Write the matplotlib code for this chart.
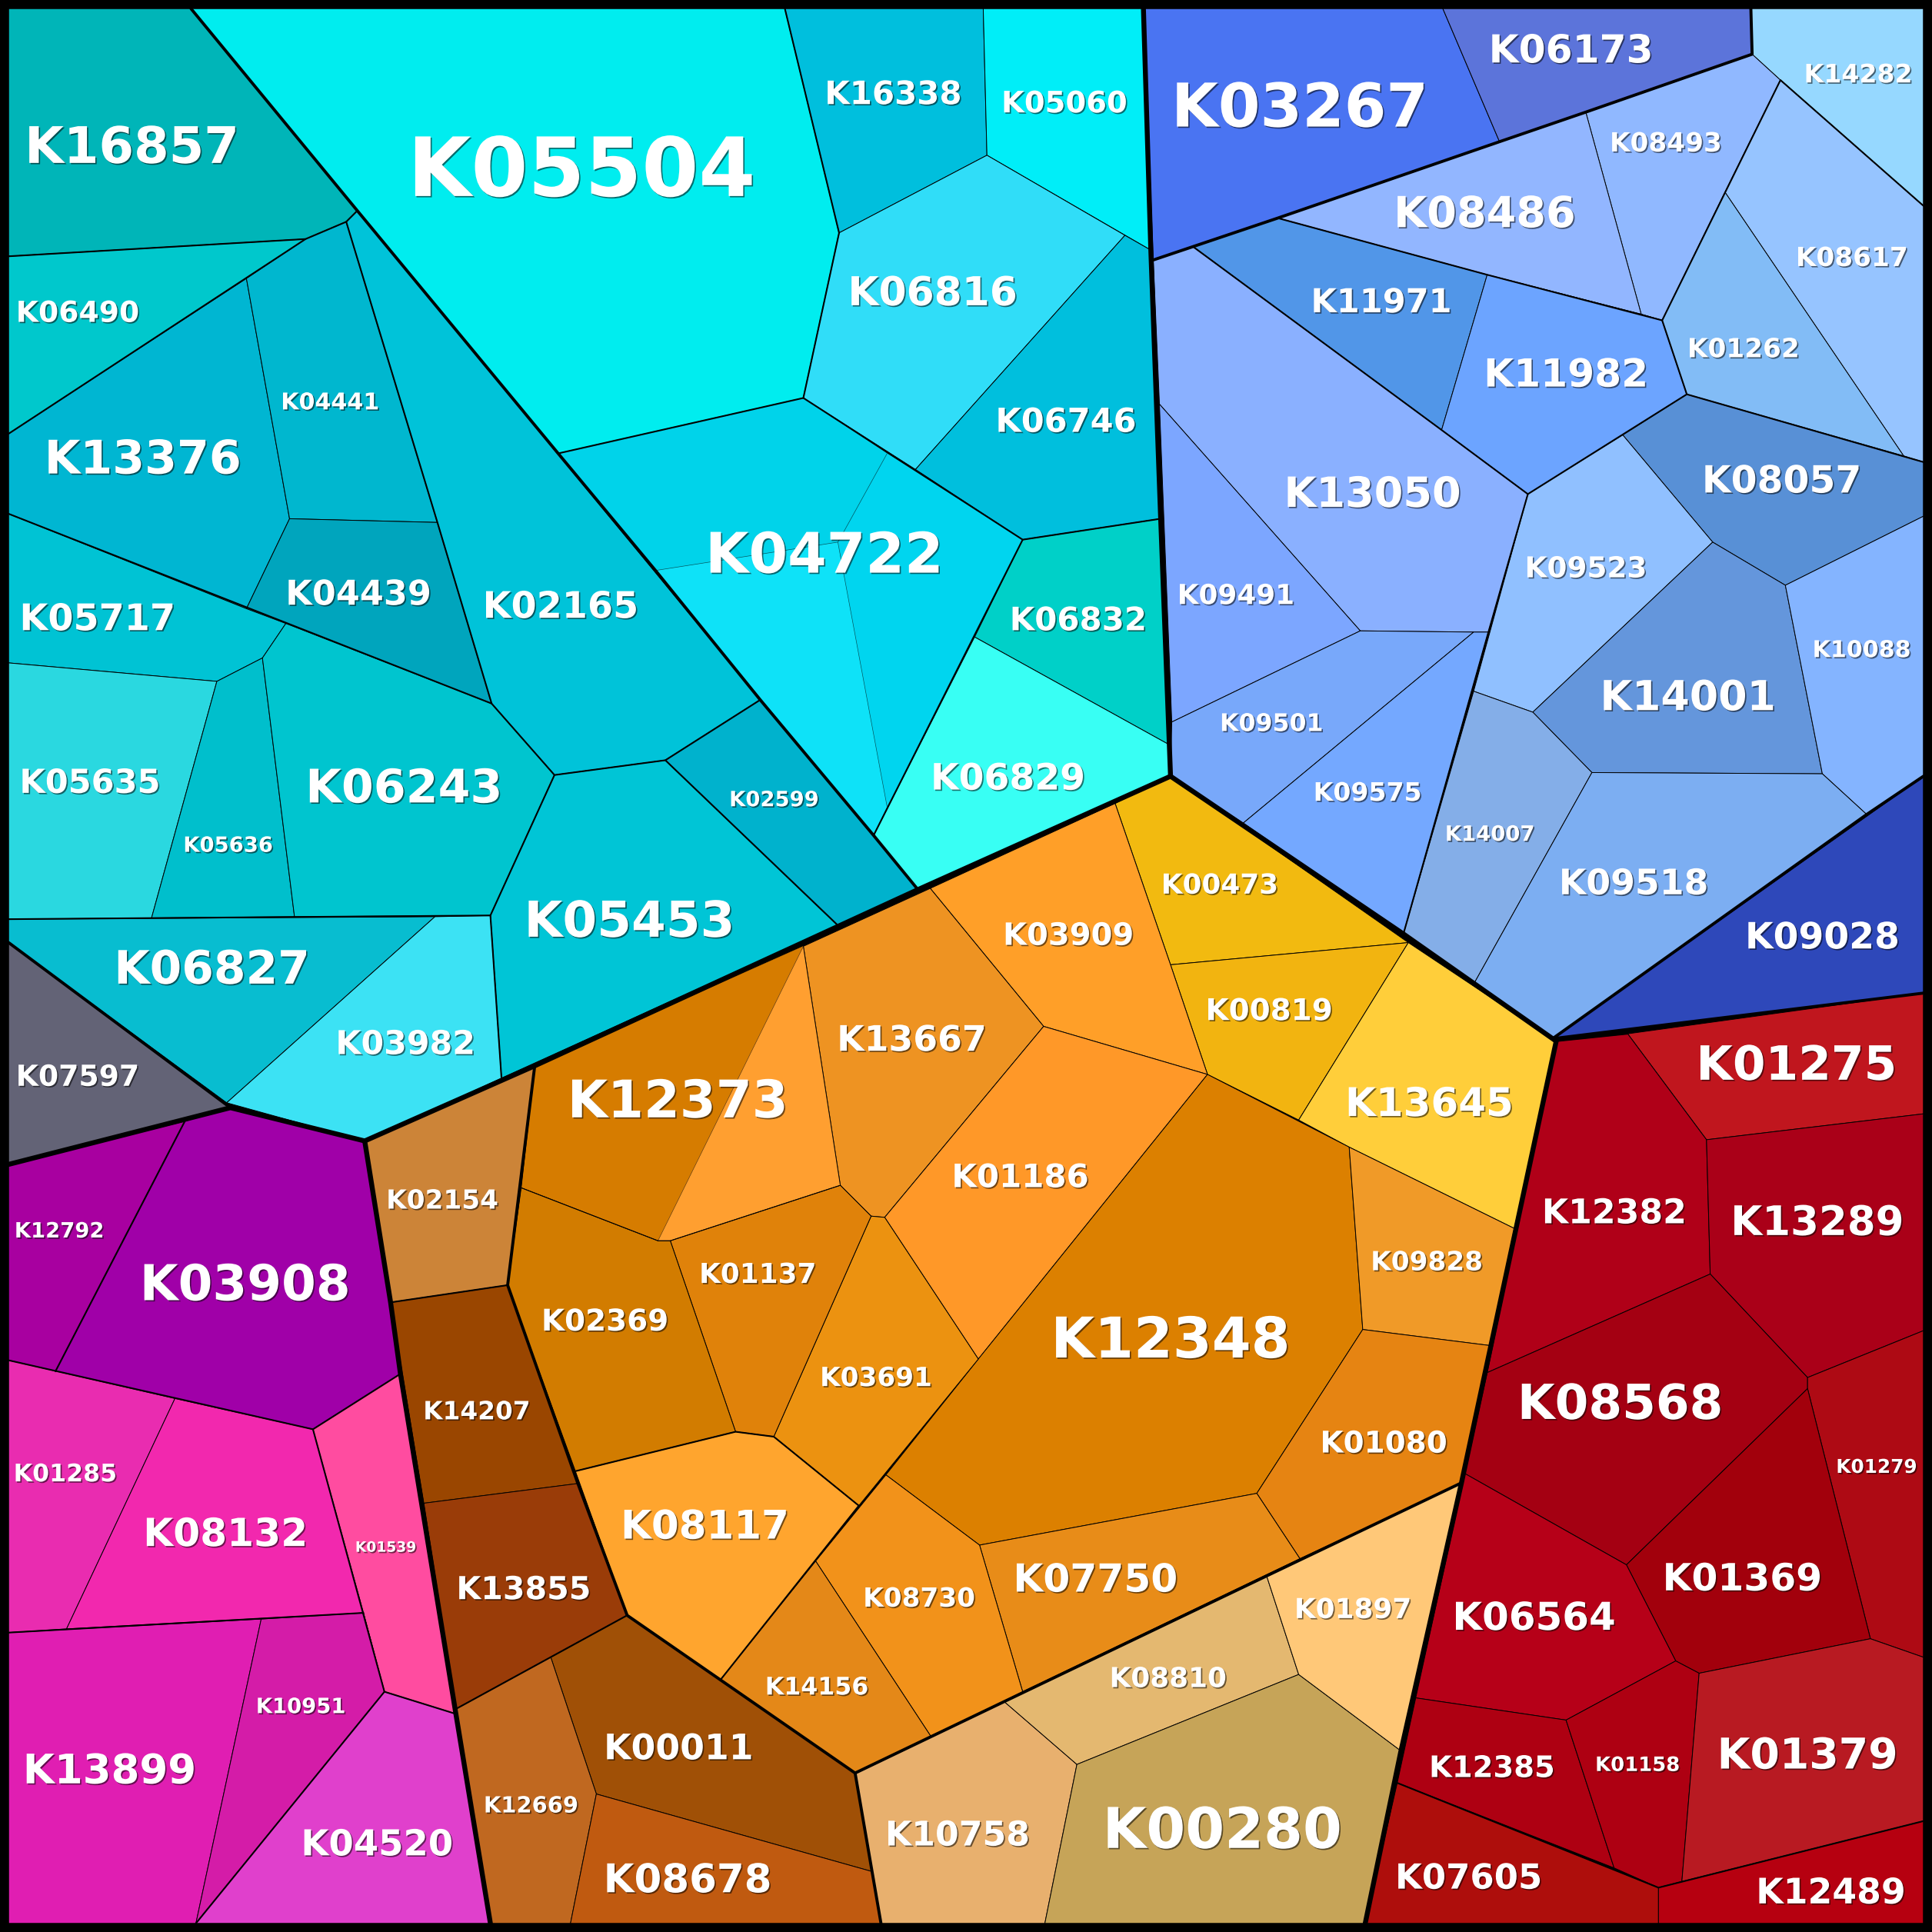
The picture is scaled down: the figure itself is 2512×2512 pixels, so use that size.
import matplotlib
matplotlib.use("Agg")
import matplotlib.pyplot as plt
import matplotlib.patheffects as pe
from matplotlib.patches import Polygon

# voronoi cells, vertices (1568 units across)
cyan_cells = {
    "K16857": [(7, 7), (155, 7), (290, 171), (281, 180), (248, 194), (7, 208)],
    "K06490": [(7, 208), (248, 194), (200, 226), (7, 352)],
    "K13376": [(7, 352), (200, 226), (235, 421), (200, 494), (7, 417)],
    "K04441": [(200, 226), (248, 194), (281, 180), (355, 424), (235, 421)],
    "K04439": [(235, 421), (355, 424), (399, 571), (200, 494)],
    "K02165": [(290, 171), (617, 568), (540, 617), (450, 629), (399, 571), (355, 424), (281, 180)],
    "K05717": [(7, 417), (200, 494), (232, 506), (213, 534), (176, 553), (7, 538)],
    "K05635": [(7, 538), (176, 553), (123, 745), (7, 746)],
    "K05636": [(176, 553), (213, 534), (239, 744), (123, 745)],
    "K06243": [(232, 506), (399, 571), (450, 629), (398, 743), (239, 744), (213, 534)],
    "K05453": [(450, 629), (540, 617), (680, 751), (407, 875), (398, 743)],
    "K02599": [(617, 568), (745, 722), (680, 751), (540, 617)],
    "K06827": [(7, 746), (353, 744), (184, 895), (7, 765)],
    "K03982": [(353, 744), (398, 743), (407, 875), (296, 926), (184, 895)],
    "K07597": [(7, 765), (187, 899), (7, 945)],
    "K05504": [(155, 7), (637, 7), (681, 189), (652, 323), (453, 368)],
    "K16338": [(637, 7), (798, 7), (801, 126), (681, 189)],
    "K05060": [(798, 7), (928, 7), (934, 203), (801, 126)],
    "K06816": [(681, 189), (801, 126), (913, 191), (743, 381), (652, 323)],
    "K06746": [(913, 191), (934, 203), (942, 421), (830, 438), (743, 381)],
    "K04722": [(453, 368), (652, 323), (720, 368), (684, 433), (680, 440), (532, 463)],
    "K04722b": [(720, 368), (830, 438), (791, 517), (720, 655), (680, 440), (684, 433)],
    "K04722c": [(532, 463), (680, 440), (720, 655), (709, 678)],
    "K06832": [(830, 438), (942, 421), (950, 605), (791, 517)],
    "K06829": [(791, 517), (950, 605), (950, 630), (745, 722), (709, 678)],
}
blue_cells = {
    "K03267": [(928, 7), (1171, 7), (1217, 115), (936, 211)],
    "K06173": [(1171, 7), (1421, 7), (1422, 44), (1217, 115)],
    "K14282": [(1421, 7), (1561, 7), (1561, 167), (1445, 65), (1422, 44)],
    "K08493": [(1287, 91), (1422, 44), (1445, 65), (1400, 156), (1349, 260), (1332, 255)],
    "K08486": [(1037, 177), (1287, 91), (1332, 255), (1207, 223)],
    "K11971": [(968, 200), (1037, 177), (1207, 223), (1170, 349)],
    "K11982": [(1207, 223), (1332, 255), (1349, 260), (1369, 320), (1317, 353), (1240, 401), (1170, 349)],
    "K13050": [(936, 211), (968, 200), (1170, 349), (1240, 401), (1208, 513), (1196, 513), (1104, 512), (941, 328)],
    "K09491": [(941, 328), (1104, 512), (951, 586)],
    "K09501": [(951, 586), (1104, 512), (1196, 513), (1009, 668), (950, 630)],
    "K09575": [(1196, 513), (1208, 513), (1139, 758), (1009, 668)],
    "K08617": [(1445, 65), (1561, 167), (1561, 375), (1545, 370), (1400, 156)],
    "K01262": [(1400, 156), (1545, 370), (1369, 320), (1349, 260)],
    "K08057": [(1369, 320), (1561, 375), (1561, 419), (1449, 475), (1390, 440), (1317, 353)],
    "K09523": [(1317, 353), (1390, 440), (1244, 578), (1196, 561), (1240, 401)],
    "K14001": [(1390, 440), (1449, 475), (1479, 628), (1292, 627), (1244, 578)],
    "K10088": [(1449, 475), (1561, 419), (1561, 630), (1515, 661), (1479, 628)],
    "K14007": [(1196, 561), (1244, 578), (1292, 627), (1197, 797), (1139, 758)],
    "K09518": [(1292, 627), (1479, 628), (1515, 661), (1260, 843), (1197, 797)],
    "K09028": [(1561, 630), (1561, 806), (1260, 843)],
}
orange_cells = {
    "K00473": [(905, 652), (950, 630), (1143, 765), (950, 783)],
    "K00819": [(950, 783), (1143, 765), (1054, 909), (980, 872)],
    "K13645": [(1143, 765), (1263, 845), (1229, 997), (1095, 931), (1054, 909)],
    "K03909": [(755, 721), (905, 652), (950, 783), (980, 872), (847, 833)],
    "K13667": [(652, 768), (755, 721), (847, 833), (718, 988), (707, 987), (682, 962)],
    "K12373": [(434, 865), (652, 768), (534, 1007), (423, 964)],
    "K12373b": [(652, 768), (682, 962), (544, 1007), (534, 1007)],
    "K01186": [(847, 833), (980, 872), (794, 1103), (718, 988)],
    "K12348": [(980, 872), (1095, 931), (1106, 1079), (1020, 1212), (795, 1254), (719, 1197), (794, 1103)],
    "K09828": [(1095, 931), (1229, 997), (1209, 1092), (1106, 1079)],
    "K01080": [(1106, 1079), (1209, 1092), (1186, 1204), (1055, 1265), (1020, 1212)],
    "K07750": [(795, 1254), (1020, 1212), (1055, 1265), (830, 1373)],
    "K03691": [(707, 987), (718, 988), (794, 1103), (697, 1222), (628, 1166)],
    "K01137": [(544, 1007), (682, 962), (707, 987), (628, 1166), (597, 1162)],
    "K02369": [(423, 964), (534, 1007), (544, 1007), (597, 1162), (467, 1194), (412, 1043)],
    "K02154": [(296, 926), (434, 865), (412, 1043), (317, 1057)],
    "K14207": [(317, 1057), (412, 1043), (469, 1204), (344, 1220)],
    "K13855": [(344, 1220), (469, 1204), (509, 1311), (370, 1387)],
    "K08117": [(467, 1194), (597, 1162), (628, 1166), (697, 1222), (585, 1363), (509, 1311)],
    "K08730": [(662, 1267), (719, 1197), (795, 1254), (830, 1373), (756, 1410)],
    "K14156": [(585, 1363), (662, 1267), (756, 1410), (694, 1439)],
    "K00011": [(447, 1345), (509, 1311), (694, 1439), (708, 1519), (484, 1456)],
    "K12669": [(370, 1387), (447, 1345), (484, 1456), (463, 1561), (398, 1561)],
    "K08678": [(484, 1456), (708, 1519), (715, 1561), (463, 1561)],
    "K10758": [(694, 1439), (815, 1381), (874, 1432), (848, 1561), (715, 1561)],
    "K08810": [(815, 1381), (1028, 1279), (1054, 1359), (874, 1432)],
    "K00280": [(874, 1432), (1054, 1359), (1137, 1421), (1108, 1561), (848, 1561)],
    "K01897": [(1028, 1279), (1185, 1204), (1137, 1421), (1054, 1359)],
}
purple_cells = {
    "K12792": [(7, 945), (150, 910), (45, 1113), (7, 1104)],
    "K03908": [(150, 910), (187, 899), (296, 926), (325, 1115), (254, 1160), (45, 1113)],
    "K01285": [(7, 1104), (142, 1135), (54, 1322), (7, 1325)],
    "K08132": [(142, 1135), (254, 1160), (295, 1309), (54, 1322)],
    "K01539": [(254, 1160), (325, 1115), (370, 1391), (312, 1373), (295, 1309)],
    "K13899": [(7, 1325), (212, 1314), (159, 1561), (7, 1561)],
    "K10951": [(212, 1314), (295, 1309), (312, 1373), (159, 1561)],
    "K04520": [(312, 1373), (370, 1391), (398, 1561), (159, 1561)],
}
red_cells = {
    "K01275": [(1321, 839), (1561, 806), (1561, 904), (1385, 925)],
    "K12382": [(1263, 845), (1321, 839), (1385, 925), (1388, 1034), (1207, 1114)],
    "K13289": [(1385, 925), (1561, 904), (1561, 1080), (1467, 1118), (1388, 1034)],
    "K08568": [(1207, 1114), (1388, 1034), (1467, 1118), (1467, 1127), (1320, 1270), (1189, 1196)],
    "K01279": [(1467, 1118), (1561, 1080), (1561, 1345), (1518, 1330), (1467, 1127)],
    "K01369": [(1467, 1127), (1518, 1330), (1379, 1358), (1360, 1348), (1320, 1270)],
    "K06564": [(1189, 1196), (1320, 1270), (1360, 1348), (1271, 1396), (1149, 1378)],
    "K12385": [(1149, 1378), (1271, 1396), (1310, 1516), (1134, 1447)],
    "K01158": [(1271, 1396), (1360, 1348), (1379, 1358), (1365, 1527), (1346, 1532), (1310, 1516)],
    "K01379": [(1379, 1358), (1518, 1330), (1561, 1345), (1561, 1478), (1365, 1527)],
    "K07605": [(1134, 1447), (1346, 1532), (1346, 1561), (1108, 1561)],
    "K12489": [(1346, 1532), (1561, 1478), (1561, 1561), (1346, 1561)],
}

cell_colors = {
    "K16857": "#00B5B8", "K06490": "#00C8CC", "K13376": "#00B6D2", "K04441": "#00B7CF",
    "K04439": "#00A5BD", "K02165": "#00C3D9", "K05717": "#00C3D4", "K05635": "#2AD8E0",
    "K05636": "#00BFCC", "K06243": "#00C5CF", "K05453": "#00C5D6", "K02599": "#00B2CD",
    "K06827": "#08BDD0", "K03982": "#3CE2F4", "K07597": "#636376", "K05504": "#00EDEF",
    "K16338": "#00BFDD", "K05060": "#00EEF8", "K06816": "#30DDF8", "K06746": "#00BFDD",
    "K04722": "#00D3EA", "K04722b": "#00D5EF", "K04722c": "#0EE2F8", "K06832": "#00D0C8",
    "K06829": "#38FFF4",
    "K03267": "#4A74F2", "K06173": "#5C74DA", "K14282": "#96D8FF", "K08493": "#90B8FF",
    "K08486": "#92B6FF", "K11971": "#5196E8", "K11982": "#6CA4FF", "K13050": "#8AB0FF",
    "K09491": "#7CA6FF", "K09501": "#78A8FA", "K09575": "#74A8FF", "K08617": "#96C4FF",
    "K01262": "#82BCF6", "K08057": "#5890D6", "K09523": "#90C0FF", "K14001": "#6496DC",
    "K10088": "#84B4FF", "K14007": "#84AEE8", "K09518": "#7CAEF2", "K09028": "#2E48BA",
    "K00473": "#F2BA10", "K00819": "#F2B410", "K13645": "#FFCE3A", "K03909": "#FF9F28",
    "K13667": "#EE9322", "K12373": "#D67C00", "K12373b": "#FF9F30", "K01186": "#FF9828",
    "K12348": "#DC8000", "K09828": "#F09A28", "K01080": "#E68412", "K07750": "#E88C18",
    "K03691": "#EC9210", "K01137": "#E0820A", "K02369": "#D27C00", "K02154": "#CC8438",
    "K14207": "#9A4600", "K13855": "#9A3C08", "K08117": "#FFA52E", "K08730": "#F2921A",
    "K14156": "#E48818", "K00011": "#A05006", "K12669": "#C06820", "K08678": "#C05A10",
    "K10758": "#E8B06E", "K08810": "#E4B870", "K00280": "#C6A458", "K01897": "#FFC878",
    "K12792": "#A800A0", "K03908": "#A000A8", "K01285": "#E92CB0", "K08132": "#F228AE",
    "K01539": "#FF4CA0", "K13899": "#E01EB2", "K10951": "#D41CA8", "K04520": "#E040CC",
    "K01275": "#C0161E", "K12382": "#B00018", "K13289": "#AA0018", "K08568": "#A40012",
    "K01279": "#AE0A14", "K01369": "#A2000C", "K06564": "#B60018", "K12385": "#AE0012",
    "K01158": "#AE0012", "K01379": "#B81A22", "K07605": "#AE0E0C", "K12489": "#B60010",
}

# centre of each label and how wide it is drawn
label_spots = {
    "K16857": (107, 119, 172), "K06490": (63, 253, 99), "K13376": (116, 372, 158),
    "K04441": (268, 325, 79), "K04439": (291, 481, 117), "K02165": (455, 491, 125),
    "K05717": (79, 501, 125), "K05635": (73, 634, 113), "K05636": (185, 685, 72),
    "K06243": (328, 639, 158), "K05453": (511, 747, 169), "K02599": (628, 648, 72),
    "K06827": (172, 786, 157), "K03982": (329, 846, 112), "K07597": (63, 873, 99),
    "K05504": (472, 139, 279), "K16338": (725, 75, 110), "K05060": (864, 83, 101),
    "K06816": (757, 237, 136), "K06746": (865, 341, 113), "K04722": (669, 450, 191),
    "K06832": (875, 502, 110), "K06829": (818, 631, 124),
    "K03267": (1055, 87, 206), "K06173": (1275, 40, 132), "K14282": (1508, 59, 87),
    "K08493": (1352, 115, 90), "K08486": (1205, 173, 146), "K11971": (1121, 244, 113),
    "K11982": (1271, 303, 132), "K13050": (1114, 400, 142), "K09491": (1003, 482, 94),
    "K09501": (1032, 586, 83), "K09575": (1110, 642, 87), "K08617": (1503, 208, 90),
    "K01262": (1415, 282, 90), "K08057": (1446, 389, 128), "K09523": (1287, 460, 98),
    "K14001": (1370, 565, 141), "K10088": (1511, 526, 79), "K14007": (1209, 676, 72),
    "K09518": (1326, 716, 120), "K09028": (1479, 760, 124),
    "K00473": (990, 717, 94), "K00819": (1030, 819, 102), "K13645": (1160, 895, 135),
    "K03909": (867, 758, 105), "K13667": (740, 843, 120), "K12373": (550, 893, 177),
    "K01186": (828, 954, 110), "K12348": (950, 1087, 192), "K09828": (1158, 1023, 90),
    "K01080": (1123, 1170, 102), "K07750": (889, 1281, 132), "K03691": (711, 1117, 90),
    "K01137": (615, 1033, 94), "K02369": (491, 1071, 102), "K02154": (359, 973, 90),
    "K14207": (387, 1144, 86), "K13855": (425, 1289, 108), "K08117": (572, 1238, 135),
    "K08730": (746, 1296, 90), "K14156": (663, 1368, 83), "K00011": (551, 1418, 120),
    "K12669": (431, 1464, 76), "K08678": (558, 1525, 135), "K10758": (777, 1488, 116),
    "K08810": (948, 1361, 94), "K00280": (992, 1485, 192), "K01897": (1098, 1305, 94),
    "K12792": (48, 998, 72), "K03908": (199, 1042, 169), "K01285": (53, 1195, 83),
    "K08132": (183, 1244, 132), "K01539": (313, 1254, 49), "K13899": (89, 1436, 139),
    "K10951": (244, 1384, 72), "K04520": (306, 1496, 122),
    "K01275": (1458, 864, 161), "K12382": (1310, 983, 116), "K13289": (1475, 991, 139),
    "K08568": (1315, 1139, 165), "K01279": (1523, 1189, 65), "K01369": (1414, 1280, 128),
    "K06564": (1245, 1312, 131), "K12385": (1211, 1434, 101), "K01158": (1329, 1431, 68),
    "K01379": (1467, 1424, 145), "K07605": (1192, 1523, 118), "K12489": (1486, 1535, 120),
}

# these cells get no black outline of their own, their inner edges are very faint
soft_cells = ["K04722", "K04722b", "K04722c", "K12373", "K12373b"]
faint_edges = [
    [(532, 463), (680, 440), (684, 433), (720, 368)],
    [(680, 440), (720, 655)],
    [(652, 768), (534, 1007)],
]
thin_edges = [
    [(434, 865), (423, 964), (534, 1007), (544, 1007), (682, 962), (652, 768)],
]

# borders between the hierarchy levels
top_borders = [
    [(950, 630), (745, 722), (434, 865), (296, 926), (187, 899), (7, 945)],
    [(950, 630), (1139, 758), (1263, 845), (1186, 1204), (1137, 1421), (1108, 1561)],
    [(950, 630), (942, 421), (934, 203), (928, 7)],
    [(296, 926), (317, 1057), (325, 1115), (370, 1391), (398, 1561)],
]
second_borders = [
    [(155, 7), (290, 171), (453, 368), (532, 463), (617, 568), (709, 678), (745, 722)],
    [(7, 765), (187, 899)],
    [(936, 211), (1037, 177), (1217, 115), (1287, 91), (1422, 44), (1421, 7)],
    [(1561, 630), (1515, 661), (1260, 843), (1561, 806)],
    [(434, 865), (412, 1043), (469, 1204), (509, 1311), (694, 1439), (715, 1561)],
    [(694, 1439), (815, 1381), (1028, 1279), (1185, 1204)],
]
mid_borders = [
    [(453, 368), (652, 323), (830, 438), (709, 678)],
    [(637, 7), (681, 189), (652, 323)],
    [(830, 438), (942, 421)],
    [(7, 208), (248, 194), (281, 180), (290, 171)],
    [(7, 352), (248, 194)],
    [(281, 180), (355, 424), (399, 571), (450, 629), (398, 743), (407, 875)],
    [(7, 417), (399, 571)],
    [(450, 629), (540, 617), (617, 568)],
    [(540, 617), (680, 751)],
    [(7, 746), (398, 743)],
    [(968, 200), (1170, 349), (1240, 401), (1369, 320), (1349, 260), (1445, 65), (1561, 167)],
    [(1037, 177), (1207, 223), (1349, 260)],
    [(1369, 320), (1561, 375)],
    [(1240, 401), (1208, 513), (1139, 758)],
    [(317, 1057), (412, 1043)],
    [(370, 1387), (509, 1311)],
    [(467, 1194), (597, 1162), (628, 1166), (697, 1222), (585, 1363)],
    [(7, 1104), (254, 1160), (325, 1115)],
    [(254, 1160), (312, 1373), (370, 1391)],
    [(7, 1325), (295, 1309)],
    [(312, 1373), (159, 1561)],
    [(150, 910), (45, 1113)],
    [(1134, 1447), (1346, 1532), (1561, 1478)],
    [(1263, 845), (1321, 839)],
]

SIDE = 1568
# DejaVu Sans Bold: one K and five digits take 4.255 em
WIDTH_TO_PT = 2512 / SIDE / 4.255 * 0.72 * 1.012


def draw_lines(ax, lines, width, alpha=1.0):
    for line in lines:
        xs = [p[0] for p in line]
        ys = [p[1] for p in line]
        ax.plot(xs, ys, color="black", linewidth=width, alpha=alpha, solid_capstyle="round",
                solid_joinstyle="round", zorder=3)


def main():
    fig = plt.figure(figsize=(25.12, 25.12), dpi=100, facecolor="black")
    ax = fig.add_axes([0, 0, 1, 1])
    ax.set_xlim(0, SIDE)
    ax.set_ylim(SIDE, 0)
    ax.axis("off")

    for group in [cyan_cells, blue_cells, orange_cells, purple_cells, red_cells]:
        for name, verts in group.items():
            if name in soft_cells:
                ax.add_patch(Polygon(verts, closed=True, facecolor=cell_colors[name],
                                     edgecolor=cell_colors[name], linewidth=0.3, zorder=1))
            else:
                ax.add_patch(Polygon(verts, closed=True, facecolor=cell_colors[name],
                                     edgecolor="black", linewidth=0.7, zorder=1))

    draw_lines(ax, faint_edges, 0.5, alpha=0.55)
    draw_lines(ax, thin_edges, 0.7)
    draw_lines(ax, mid_borders, 1.5)
    draw_lines(ax, second_borders, 2.8)
    draw_lines(ax, top_borders, 4.6)

    shadow = [pe.withSimplePatchShadow(offset=(1.2, -1.2), shadow_rgbFace="black", alpha=0.55)]
    for name, (x, y, w) in label_spots.items():
        # va center sits about 2 units too high for these glyphs
        ax.text(x, y + 2, name, color="white", fontweight="bold", family="DejaVu Sans",
                fontsize=w * WIDTH_TO_PT, ha="center", va="center", zorder=4,
                path_effects=shadow)

    fig.savefig("out.png", dpi=100, facecolor="black")


if __name__ == "__main__":
    main()
